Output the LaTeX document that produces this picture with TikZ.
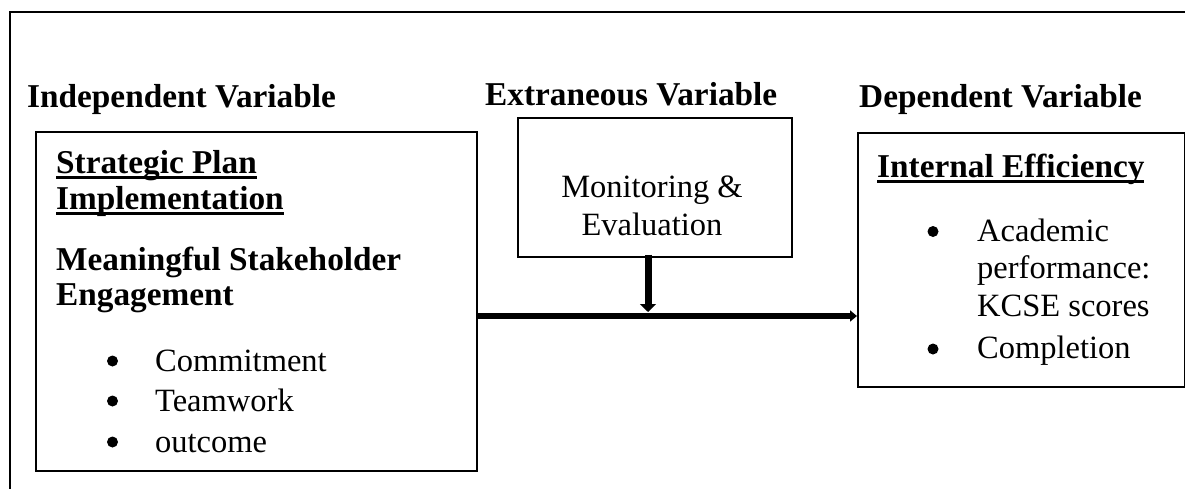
\documentclass[tikz,border=0pt]{standalone}
\usepackage{fontspec}
\setmainfont{Liberation Serif}
\usetikzlibrary{arrows.meta}
\newcommand\myul[1]{\setbox0\hbox{#1}\rlap{\rule[-5.8pt]{\wd0}{2.4pt}}\box0}
\begin{document}
\begin{tikzpicture}[x=1pt,y=-1pt,
  box/.style={draw, line width=1.6pt, anchor=north west, inner sep=0pt},
  txt/.style={anchor=base west, inner sep=0pt, font=\fontsize{32.5}{38}\selectfont},
  btxt/.style={anchor=base west, inner sep=0pt, font=\fontsize{33.3}{38}\selectfont\bfseries},
  ctxt/.style={anchor=base, inner sep=0pt, font=\fontsize{32.5}{38}\selectfont},
  bul/.style={circle, fill, inner sep=0pt, minimum size=11pt},
  frame/.style={line width=1.6pt}]
\useasboundingbox (0,0) rectangle (1185,488);
\draw[frame] (1200,12) -- (10,12) -- (10,500);

% titles
\node[btxt] (tind) at (27,107) {Independent Variable};
\node[btxt] (text) at (485,105) {Extraneous Variable};
\node[btxt] (tdep) at (859,107) {Dependent Variable};

% boxes
\node[box, minimum width=441pt, minimum height=339pt] (ind) at (35,131) {};
\node[box, minimum width=274pt, minimum height=139pt] (ext) at (517,117) {};
\node[box, minimum width=327pt, minimum height=254pt] (dep) at (857,132) {};

% left box text
\node[btxt] (s1) at (56,173) {\myul{Strategic Plan}};
\node[btxt] (s2) at (56,209) {\myul{Implementation}};
\node[btxt] (m1) at (56,270) {Meaningful Stakeholder};
\node[btxt] (m2) at (56,305) {Engagement};
\node[bul] (b1) at (112.5,361) {};
\node[txt] (c1) at (155,371) {Commitment};
\node[bul] (b2) at (112.5,401) {};
\node[txt] (c2) at (155,411) {Teamwork};
\node[bul] (b3) at (112.5,442) {};
\node[txt] (c3) at (155,452) {outcome};

% middle box text
\node[ctxt] (e1) at (652,197) {Monitoring \&};
\node[ctxt] (e2) at (652,235) {Evaluation};

% right box text
\node[btxt] (d0) at (877,177) {\myul{Internal Efficiency}};
\node[bul] (db1) at (933,231.5) {};
\node[txt] (d1) at (977,241) {Academic};
\node[txt] (d2) at (977,278) {performance:};
\node[txt] (d3) at (977,316) {KCSE scores};
\node[bul] (db2) at (933,349) {};
\node[txt] (d4) at (977,358) {Completion};

% connectors
\coordinate (hs) at (ind.east |- 0,316);
\coordinate (he) at (dep.west |- 0,316);
\draw[line width=5.5pt, -{Triangle[length=7pt,width=11pt]}] (hs) -- (he);
\coordinate (vs) at ([yshift=3pt]ext.south -| 648,0);
\coordinate (ve) at (648,312);
\draw[line width=7pt, -{Triangle[length=8pt,width=16pt]}] (vs) -- (ve);
\end{tikzpicture}
\end{document}
